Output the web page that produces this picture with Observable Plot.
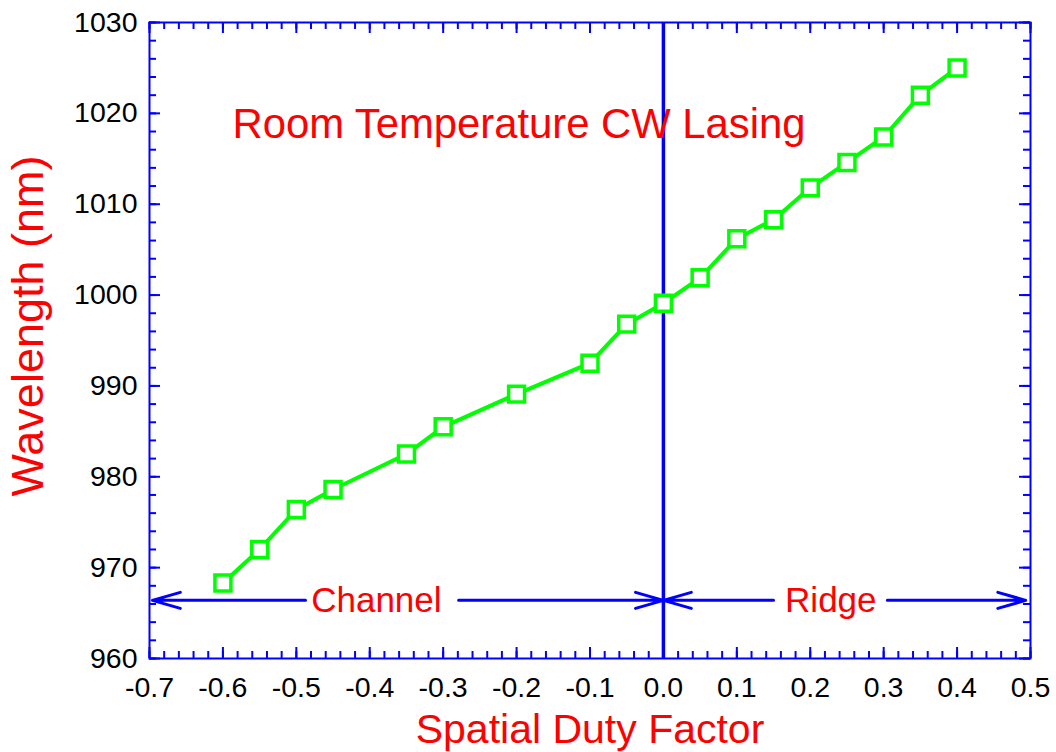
<!DOCTYPE html>
<html><head><meta charset="utf-8">
<script src="https://cdn.jsdelivr.net/npm/d3@7"></script>
<script src="https://cdn.jsdelivr.net/npm/@observablehq/plot@0.6"></script>
<style>body{margin:0;background:#fff}</style>
</head><body><div id="chart"></div>
<script>
// Data
const duty = [-0.6, -0.55, -0.5, -0.45, -0.35, -0.3, -0.2, -0.1, -0.05, 0, 0.05, 0.1, 0.15, 0.2, 0.25, 0.3, 0.35, 0.4];
const wavelength = [968.3, 972.0, 976.4, 978.6, 982.5, 985.5, 989.1, 992.5, 996.8, 999.1, 1001.9, 1006.2, 1008.3, 1011.8, 1014.6, 1017.4, 1022.0, 1025.0];

// Tick values
const xMajor = [-0.7, -0.6, -0.5, -0.4, -0.3, -0.2, -0.1, 0.0, 0.1, 0.2, 0.3, 0.4, 0.5];
const yMajor = [960, 970, 980, 990, 1000, 1010, 1020, 1030];
const xMinor = d3.range(-35, 26).map(i => i / 50);
const yMinor = d3.range(480, 516).map(i => i * 2);

// Annotations
const titleText = ["Room Temperature CW Lasing"];
const titleX = [-0.587];
const titleY = [1017.3];
const regionLabels = ["Channel", "Ridge"];
const regionLabelX = [-0.391, 0.228];
const arrowY = 966.4;
const arrowFrom = [-0.4875, -0.279, 0.15, 0.305];
const arrowTo = [-0.696, 0.0, 0.0, 0.4935];

const xLabel = "Spatial Duty Factor";
const yLabel = "Wavelength (nm)";

const W = 1056, H = 752;
const mL = 149, mR = 26, mT = 22, mB = 94;
const fw = W - mL - mR, fh = H - mT - mB;
const BLUE = "#0000ff", GREEN = "#00ff00", RED = "#ff0000";

const points = duty.map((x, i) => ({x, y: wavelength[i]}));
const arrows = arrowFrom.map((x1, i) => ({x1, x2: arrowTo[i], y: arrowY}));
const regions = regionLabels.map((t, i) => ({t, x: regionLabelX[i], y: arrowY}));
const titles = titleText.map((t, i) => ({t, x: titleX[i], y: titleY[i]}));

const fmt = d => d.toFixed(1);

const chart = Plot.plot({
  width: W, height: H,
  marginLeft: mL, marginRight: mR, marginTop: mT, marginBottom: mB,
  style: {fontFamily: "'Liberation Sans', Arial, Helvetica, sans-serif", background: "#fff"},
  x: {domain: [-0.7, 0.5]},
  y: {domain: [960, 1030]},
  marks: [
    // inward ticks
    Plot.ruleX(xMinor, {stroke: BLUE, strokeWidth: 2, insetTop: fh - 7}),
    Plot.ruleX(xMinor, {stroke: BLUE, strokeWidth: 2, insetBottom: fh - 7}),
    Plot.ruleX(xMajor, {stroke: BLUE, strokeWidth: 2, insetTop: fh - 11}),
    Plot.ruleX(xMajor, {stroke: BLUE, strokeWidth: 2, insetBottom: fh - 11}),
    Plot.ruleY(yMinor, {stroke: BLUE, strokeWidth: 2, insetRight: fw - 7}),
    Plot.ruleY(yMinor, {stroke: BLUE, strokeWidth: 2, insetLeft: fw - 7}),
    Plot.ruleY(yMajor, {stroke: BLUE, strokeWidth: 2, insetRight: fw - 11}),
    Plot.ruleY(yMajor, {stroke: BLUE, strokeWidth: 2, insetLeft: fw - 11}),
    Plot.frame({stroke: BLUE, strokeWidth: 2}),
    // tick labels
    Plot.axisX(xMajor, {tickSize: 0, tickPadding: 18, tickFormat: fmt, fontSize: 28.5, fill: "black", label: null}),
    Plot.axisY(yMajor, {tickSize: 0, tickPadding: 12, tickFormat: d => String(d), fontSize: 28.5, fill: "black", label: null}),
    // axis labels
    Plot.text([xLabel], {frameAnchor: "bottom", dy: 84, textAnchor: "middle", lineAnchor: "bottom", fontSize: 41, fill: RED, text: d => d}),
    Plot.text([yLabel], {frameAnchor: "left", rotate: -90, dx: -107, dy: -14.5, textAnchor: "middle", lineAnchor: "bottom", fontSize: 45, fill: RED, text: d => d}),
    // vertical divider at 0
    Plot.ruleX([0], {stroke: BLUE, strokeWidth: 3.5}),
    // arrows
    Plot.arrow(arrows, {x1: "x1", x2: "x2", y1: "y", y2: "y", stroke: BLUE, strokeWidth: 3, headLength: 14.5, headAngle: 32}),
    Plot.text(regions, {x: "x", y: "y", text: "t", fontSize: 35, fill: RED, lineAnchor: "middle"}),
    // title
    Plot.text(titles, {x: "x", y: "y", text: "t", fontSize: 41.8, fill: RED, textAnchor: "start", lineAnchor: "bottom"}),
    // data
    Plot.line(points, {x: "x", y: "y", stroke: GREEN, strokeWidth: 4}),
    Plot.dot(points, {x: "x", y: "y", symbol: "square", r: 9, stroke: GREEN, strokeWidth: 3.5, fill: "white"})
  ]
});
document.getElementById("chart").appendChild(chart);
</script>
</body></html>
